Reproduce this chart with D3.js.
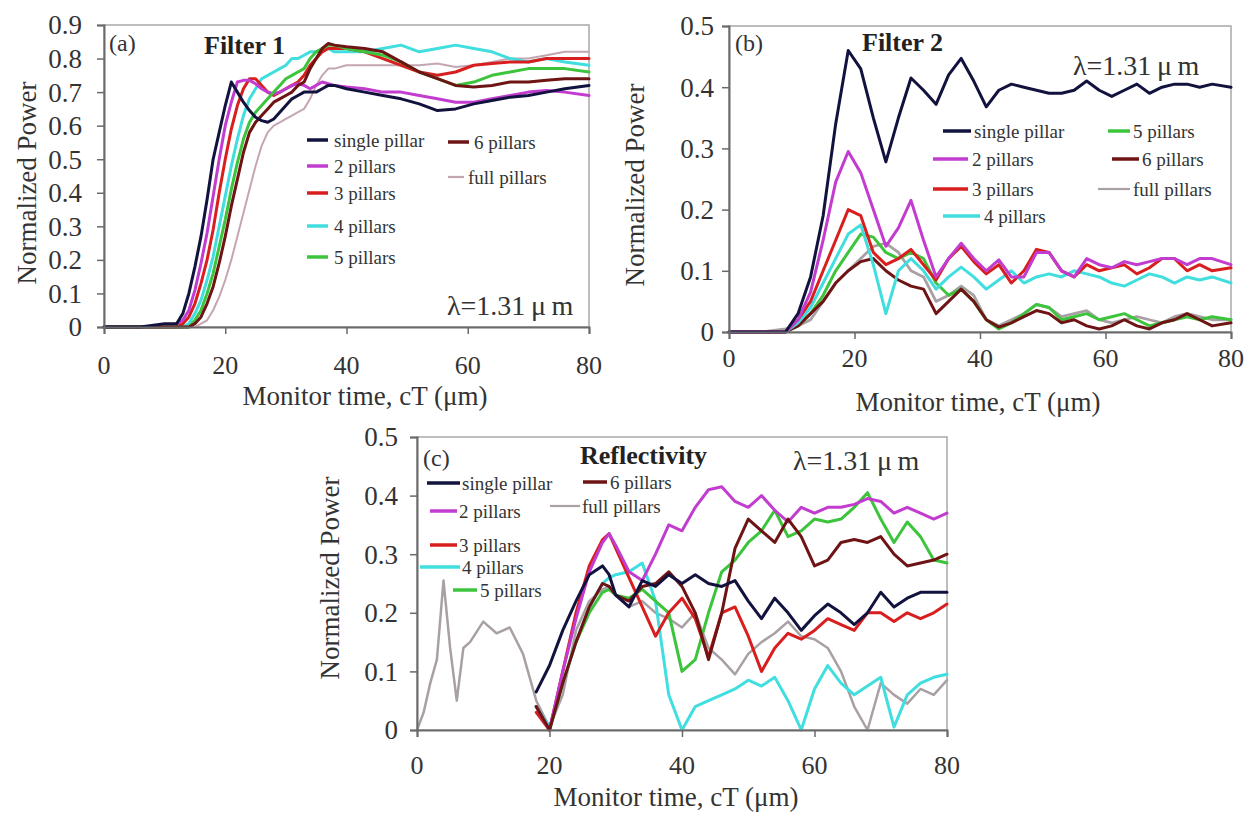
<!DOCTYPE html>
<html><head><meta charset="utf-8">
<script src="https://cdn.jsdelivr.net/npm/d3@7"></script>
<style>body{margin:0;background:#fff}svg{display:block}</style>
</head><body>
<svg id="chart" width="1250" height="814"></svg>
<script>
// ---------- data ----------
const seriesNames = ["single pillar","2 pillars","3 pillars","4 pillars","5 pillars","6 pillars","full pillars"];
const seriesColors = ["#12123e","#c23ccf","#d81e1e","#40dede","#3cc43c","#6e1414","#a8a0a4"];
const fullColorA = "#c4a6b2";
const xTicks = [0,20,40,60,80];
const yTicksA = [0,0.1,0.2,0.3,0.4,0.5,0.6,0.7,0.8,0.9];
const yTicksB = [0,0.1,0.2,0.3,0.4,0.5];
const yTicksC = [0,0.1,0.2,0.3,0.4,0.5];

// (a) Filter 1
const tA = [0,6,10,12,13,14,15,16,17,18,19,20,21,22,23,24,25,26,27,28,29,30,31,32,33,34,35,36,37,38,40,43,46,49,52,55,58,61,64,67,70,73,76,80];
const aSingle = [0,0,0.01,0.01,0.04,0.1,0.18,0.27,0.38,0.5,0.58,0.66,0.73,0.7,0.67,0.645,0.625,0.615,0.61,0.62,0.64,0.66,0.68,0.69,0.7,0.7,0.7,0.71,0.72,0.72,0.71,0.7,0.69,0.68,0.665,0.645,0.65,0.665,0.675,0.685,0.69,0.7,0.71,0.72];
const a2 = [0,0,0,0.01,0.02,0.05,0.11,0.19,0.28,0.39,0.5,0.6,0.67,0.73,0.735,0.735,0.725,0.71,0.7,0.695,0.7,0.71,0.72,0.725,0.72,0.71,0.72,0.73,0.725,0.72,0.715,0.71,0.7,0.7,0.69,0.68,0.67,0.67,0.68,0.69,0.7,0.705,0.7,0.69];
const a3 = [0,0,0,0,0.01,0.03,0.07,0.13,0.2,0.29,0.4,0.5,0.59,0.66,0.71,0.74,0.74,0.72,0.7,0.69,0.7,0.71,0.72,0.73,0.75,0.78,0.8,0.82,0.83,0.83,0.83,0.82,0.8,0.78,0.76,0.75,0.76,0.78,0.785,0.79,0.79,0.8,0.8,0.8];
const a4 = [0,0,0,0,0,0.01,0.04,0.08,0.14,0.21,0.3,0.39,0.48,0.56,0.63,0.68,0.71,0.74,0.75,0.76,0.77,0.78,0.8,0.8,0.81,0.82,0.82,0.83,0.83,0.82,0.82,0.82,0.83,0.84,0.82,0.83,0.84,0.83,0.82,0.8,0.79,0.8,0.79,0.78];
const a5 = [0,0,0,0,0,0,0.02,0.05,0.1,0.16,0.24,0.32,0.41,0.49,0.56,0.61,0.64,0.66,0.68,0.7,0.72,0.74,0.75,0.76,0.77,0.8,0.82,0.83,0.84,0.84,0.83,0.82,0.81,0.79,0.76,0.74,0.72,0.73,0.75,0.76,0.77,0.77,0.77,0.76];
const a6 = [0,0,0,0,0,0,0.01,0.03,0.07,0.12,0.19,0.27,0.36,0.44,0.52,0.58,0.61,0.63,0.65,0.67,0.68,0.69,0.7,0.72,0.73,0.77,0.8,0.83,0.845,0.84,0.835,0.83,0.82,0.79,0.76,0.74,0.72,0.715,0.72,0.73,0.73,0.735,0.74,0.74];
const aFull = [0,0,0,0,0,0,0,0.01,0.02,0.05,0.09,0.14,0.2,0.27,0.34,0.41,0.48,0.54,0.58,0.6,0.61,0.62,0.63,0.64,0.65,0.68,0.72,0.75,0.77,0.77,0.78,0.78,0.78,0.78,0.78,0.785,0.775,0.78,0.79,0.8,0.8,0.81,0.82,0.82];

// (b) Filter 2
const tB = [0,5,9,11,13,15,17,19,21,23,25,27,29,31,33,35,37,39,41,43,45,47,49,51,53,55,57,59,61,63,65,67,69,71,73,75,77,80];
const bSingle = [0,0,0,0.03,0.09,0.19,0.34,0.46,0.43,0.35,0.278,0.35,0.415,0.395,0.372,0.42,0.447,0.41,0.368,0.395,0.405,0.4,0.395,0.39,0.39,0.395,0.41,0.395,0.385,0.395,0.405,0.39,0.4,0.405,0.405,0.4,0.405,0.4];
const b2 = [0,0,0,0.02,0.065,0.15,0.245,0.295,0.26,0.2,0.14,0.17,0.215,0.15,0.09,0.12,0.145,0.12,0.1,0.118,0.09,0.09,0.13,0.13,0.1,0.09,0.12,0.11,0.105,0.115,0.11,0.115,0.12,0.12,0.11,0.12,0.12,0.11];
const b3 = [0,0,0,0.02,0.05,0.1,0.15,0.2,0.19,0.13,0.11,0.12,0.135,0.11,0.085,0.12,0.14,0.115,0.095,0.11,0.08,0.1,0.135,0.13,0.1,0.09,0.11,0.1,0.105,0.11,0.095,0.105,0.12,0.12,0.1,0.11,0.1,0.105];
const b4 = [0,0,0,0.015,0.04,0.08,0.12,0.16,0.175,0.11,0.03,0.1,0.12,0.1,0.07,0.09,0.106,0.09,0.07,0.085,0.1,0.08,0.09,0.095,0.09,0.1,0.095,0.09,0.08,0.075,0.085,0.095,0.09,0.08,0.09,0.085,0.09,0.08];
const b5 = [0,0,0,0.01,0.03,0.06,0.1,0.13,0.16,0.155,0.13,0.12,0.13,0.12,0.08,0.06,0.07,0.05,0.02,0.005,0.015,0.03,0.045,0.04,0.02,0.025,0.03,0.02,0.025,0.03,0.02,0.01,0.015,0.02,0.025,0.02,0.025,0.02];
const b6 = [0,0,0,0.01,0.03,0.05,0.08,0.1,0.115,0.12,0.1,0.085,0.075,0.07,0.03,0.05,0.07,0.05,0.02,0.008,0.015,0.025,0.035,0.03,0.015,0.02,0.01,0.005,0.01,0.02,0.01,0.005,0.015,0.02,0.03,0.02,0.01,0.015];
const bFull = [0,0,0.005,0.01,0.02,0.05,0.08,0.1,0.12,0.14,0.145,0.13,0.1,0.09,0.05,0.06,0.075,0.06,0.02,0.01,0.02,0.03,0.045,0.04,0.025,0.03,0.035,0.02,0.015,0.02,0.025,0.02,0.015,0.025,0.03,0.025,0.02,0.02];

// (c) Reflectivity
const tC = [0,1,2,3,4,5,6,7,8,10,12,14,16,18,20,22,24,26,28,29,30,32,34,36,38,40,42,44,46,48,50,52,54,56,58,60,62,64,66,68,70,72,74,76,78,80];
const N = null;
const cSingle = [N,N,N,N,N,N,N,N,N,N,N,N,N,0.065,0.11,0.17,0.22,0.265,0.28,0.265,0.23,0.21,0.255,0.245,0.265,0.25,0.265,0.25,0.245,0.255,0.22,0.19,0.225,0.2,0.17,0.195,0.215,0.2,0.18,0.2,0.235,0.21,0.225,0.235,0.235,0.235];
const c2 = [N,N,N,N,N,N,N,N,N,N,N,N,N,0.04,0,0.1,0.19,0.27,0.32,0.335,0.315,0.27,0.255,0.3,0.35,0.34,0.38,0.41,0.415,0.39,0.38,0.4,0.375,0.355,0.38,0.37,0.38,0.38,0.385,0.395,0.39,0.37,0.38,0.37,0.36,0.37];
const c3 = [N,N,N,N,N,N,N,N,N,N,N,N,N,0.03,0,0.1,0.2,0.28,0.325,0.335,0.31,0.26,0.21,0.16,0.2,0.225,0.19,0.125,0.2,0.21,0.16,0.1,0.14,0.165,0.155,0.17,0.19,0.18,0.17,0.2,0.2,0.185,0.2,0.19,0.2,0.215];
const c4 = [N,N,N,N,N,N,N,N,N,N,N,N,N,0.04,0.005,0.08,0.15,0.21,0.25,0.26,0.265,0.27,0.285,0.22,0.06,0,0.04,0.05,0.06,0.07,0.085,0.075,0.09,0.05,0,0.07,0.11,0.08,0.06,0.075,0.09,0.005,0.06,0.08,0.09,0.095];
const c5 = [N,N,N,N,N,N,N,N,N,N,N,N,N,0.04,0,0.08,0.15,0.2,0.235,0.24,0.23,0.225,0.24,0.22,0.2,0.1,0.12,0.2,0.27,0.29,0.32,0.34,0.375,0.33,0.34,0.36,0.355,0.36,0.38,0.405,0.36,0.32,0.355,0.33,0.29,0.285];
const c6 = [N,N,N,N,N,N,N,N,N,N,N,N,N,0.04,0,0.08,0.15,0.21,0.25,0.245,0.23,0.22,0.245,0.25,0.27,0.245,0.2,0.12,0.2,0.31,0.36,0.34,0.32,0.36,0.33,0.28,0.29,0.32,0.325,0.32,0.33,0.3,0.28,0.285,0.29,0.3];
const cFull = [0,0.03,0.08,0.12,0.255,0.14,0.05,0.14,0.15,0.185,0.165,0.175,0.13,0.05,0.005,0.06,0.17,0.22,0.24,0.245,0.23,0.21,0.22,0.2,0.19,0.175,0.2,0.14,0.12,0.095,0.13,0.15,0.165,0.185,0.16,0.155,0.14,0.1,0.04,0,0.08,0.06,0.045,0.07,0.06,0.085];

// ---------- layout ----------
const FONT = "'Liberation Serif','Times New Roman',serif";
const panels = [
  { t: tA, ys: [aSingle,a2,a3,a4,a5,a6,aFull], order: [6,3,2,1,4,5,0], yTicks: yTicksA, ymax: 0.9,
    fullColor: fullColorA, fullW: 2,
    box: {l:104, r:589, b:327, t:25}, ylabX: 82, xlabY: 365,
    yTitle: {x:27, y:183}, xTitle: {x:365, y:396},
    tag: {text:"(a)", x:109, y:43}, title: {text:"Filter 1", x:204, y:45}, lam: {x:447, y:305},
    legend: [[0,307,328,334,140],[1,307,328,334,166],[2,307,328,334,193],[3,307,328,334,226],[4,307,328,334,257],[5,448,469,474,142],[6,448,464,468,177]] },
  { t: tB, ys: [bSingle,b2,b3,b4,b5,b6,bFull], order: [6,4,5,3,2,1,0], yTicks: yTicksB, ymax: 0.5,
    fullColor: seriesColors[6], fullW: 2.8,
    box: {l:729, r:1231, b:332, t:26}, ylabX: 714, xlabY: 358,
    yTitle: {x:635, y:185}, xTitle: {x:978, y:402},
    tag: {text:"(b)", x:735, y:43}, title: {text:"Filter 2", x:862, y:42}, lam: {x:1073, y:65},
    legend: [[0,943,971,974,131],[1,933,968,972,159],[2,933,968,972,189],[3,943,980,984,216],[4,1108,1130,1133,131],[5,1112,1139,1142,159],[6,1098,1130,1133,189]] },
  { t: tC, ys: [cSingle,c2,c3,c4,c5,c6,cFull], order: [6,3,4,2,1,5,0], yTicks: yTicksC, ymax: 0.5,
    fullColor: seriesColors[6], fullW: 2.5,
    box: {l:417, r:947, b:730, t:437}, ylabX: 398, xlabY: 765,
    yTitle: {x:330, y:578}, xTitle: {x:676, y:797},
    tag: {text:"(c)", x:423, y:458}, title: {text:"Reflectivity", x:580, y:455}, lam: {x:793, y:460},
    legend: [[0,427,460,462,483],[1,430,457,459,511],[2,430,457,459,545],[3,420,460,462,567],[4,453,477,480,590],[5,583,607,610,482],[6,550,580,582,506]] }
];

const svg = d3.select("#chart");
svg.append("rect").attr("width",1250).attr("height",814).attr("fill","#fff");

panels.forEach(p => {
  const x = d3.scaleLinear().domain([0,80]).range([p.box.l, p.box.r]);
  const y = d3.scaleLinear().domain([0,p.ymax]).range([p.box.b, p.box.t]);
  const g = svg.append("g");
  const colorOf = si => si === 6 ? p.fullColor : seriesColors[si];
  const widthOf = si => si === 6 ? p.fullW : 3;

  // frame
  g.append("rect").attr("x",p.box.l).attr("y",p.box.t)
    .attr("width",p.box.r-p.box.l).attr("height",p.box.b-p.box.t)
    .attr("fill","none").attr("stroke","#a8a8a8").attr("stroke-width",1.5);

  // curves
  const line = d3.line().defined(d => d[1] !== null).x(d => x(d[0])).y(d => y(d[1]));
  p.order.forEach(si => {
    const pts = p.t.map((tv,i) => [tv, p.ys[si][i]]);
    g.append("path").attr("d", line(pts)).attr("fill","none")
      .attr("stroke", colorOf(si)).attr("stroke-width", widthOf(si))
      .attr("stroke-linejoin","round").attr("stroke-linecap","round");
  });

  // axes
  const fmt = d => d === 0 ? "0" : d3.format(".1f")(d);
  const ya = g.append("g").attr("transform",`translate(${p.box.l},0)`)
    .call(d3.axisLeft(y).tickValues(p.yTicks).tickSize(7).tickFormat(""));
  const xa = g.append("g").attr("transform",`translate(0,${p.box.b})`)
    .call(d3.axisBottom(x).tickValues(xTicks).tickSize(7).tickFormat(""));
  [ya,xa].forEach(a => {
    a.select(".domain").attr("stroke","#6a6a6a").attr("stroke-width",2);
    a.selectAll(".tick line").attr("stroke","#6a6a6a").attr("stroke-width",1.5);
  });
  g.selectAll(null).data(p.yTicks).enter().append("text")
    .attr("x",p.ylabX).attr("y",d => y(d)).attr("dy","0.35em")
    .attr("text-anchor","end").attr("font-family",FONT).attr("font-size",27)
    .attr("fill","#333").text(fmt);
  g.selectAll(null).data(xTicks).enter().append("text")
    .attr("x",d => x(d)).attr("y",p.xlabY).attr("dy","0.35em")
    .attr("text-anchor","middle").attr("font-family",FONT).attr("font-size",26)
    .attr("fill","#333").text(d => d);

  // titles
  g.append("text").attr("transform",`translate(${p.yTitle.x},${p.yTitle.y}) rotate(-90)`)
    .attr("dy","0.35em").attr("text-anchor","middle").attr("font-family",FONT)
    .attr("font-size",27).attr("fill","#333").text("Normalized Power");
  g.append("text").attr("x",p.xTitle.x).attr("y",p.xTitle.y).attr("dy","0.35em")
    .attr("text-anchor","middle").attr("font-family",FONT).attr("font-size",27)
    .attr("fill","#333").text("Monitor time, cT (\u03bcm)");

  // annotations
  g.append("text").attr("x",p.tag.x).attr("y",p.tag.y).attr("dy","0.35em")
    .attr("font-family",FONT).attr("font-size",24).attr("fill","#333").text(p.tag.text);
  g.append("text").attr("x",p.title.x).attr("y",p.title.y).attr("dy","0.35em")
    .attr("font-family",FONT).attr("font-size",26).attr("font-weight","bold").attr("fill","#222").text(p.title.text);
  g.append("text").attr("x",p.lam.x).attr("y",p.lam.y).attr("dy","0.35em")
    .attr("font-family",FONT).attr("font-size",28).attr("fill","#333").text("\u03bb=1.31\u2009\u03bc\u2009m");

  // legend
  p.legend.forEach(([si,lx0,lx1,tx,ly]) => {
    g.append("line").attr("x1",lx0).attr("x2",lx1).attr("y1",ly).attr("y2",ly)
      .attr("stroke",colorOf(si)).attr("stroke-width", si===6 ? 2.2 : 3.5);
    g.append("text").attr("x",tx).attr("y",ly).attr("dy","0.35em")
      .attr("font-family",FONT).attr("font-size",19).attr("fill","#333").text(seriesNames[si]);
  });
});
</script>
</body></html>
